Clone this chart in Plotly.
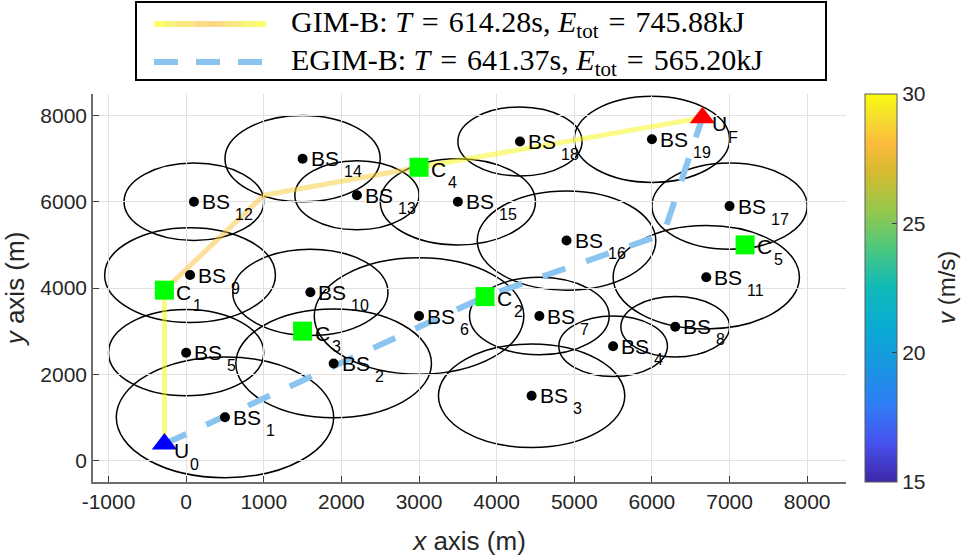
import numpy as np
import plotly.graph_objects as go
from plotly.colors import sample_colorscale

# ---------------- data ----------------
bs_id = list(range(1, 20))
bs_x = [500, 1900, 4450, 5500, 0, 3000, 4550, 6300, 50, 1600, 6700, 100, 2200, 1500, 3500, 4900, 7000, 4300, 6000]
bs_y = [1000, 2250, 1500, 2650, 2500, 3350, 3350, 3100, 4300, 3900, 4250, 6000, 6150, 7000, 6000, 5100, 5900, 7400, 7450]
bs_r = [1400, 1260, 1200, 700, 1000, 1350, 900, 700, 1100, 1000, 1200, 900, 800, 1000, 1000, 1150, 1000, 800, 1000]

c_id = ["1", "2", "3", "4", "5"]
c_x = [-280, 3850, 1500, 3000, 7200]
c_y = [3950, 3800, 3000, 6800, 5000]

u_id = ["0", "F"]
u_x = [-280, 6650]
u_y = [380, 7950]

gim_x = [-280, -280, 1000, 3000, 6650]
gim_y = [380, 3950, 6150, 6800, 7950]
gim_v = [30.0, 28.3, 28.6, 29.9]          # speed on each segment (m/s)

egim_x = [-280, 3850, 6150, 6650]
egim_y = [380, 3800, 5250, 7950]

EQ = "\u2004=\u2004"
legend_labels = ["GIM-B: <i>T</i>" + EQ + "614.28s, <i>E</i><sub>tot</sub>" + EQ + "745.88kJ",
                 "EGIM-B: <i>T</i>" + EQ + "641.37s, <i>E</i><sub>tot</sub>" + EQ + "565.20kJ"]

x_ticks = [-1000, 0, 1000, 2000, 3000, 4000, 5000, 6000, 7000, 8000]
y_ticks = [0, 2000, 4000, 6000, 8000]
cb_ticks = [15, 20, 25, 30]
v_min, v_max = 15, 30

# ---------------- styles ----------------
PARULA = [
    [0.00, "rgb(62,38,168)"],
    [0.10, "rgb(71,82,238)"],
    [0.20, "rgb(46,125,246)"],
    [0.30, "rgb(25,150,225)"],
    [0.40, "rgb(8,172,210)"],
    [0.50, "rgb(15,186,186)"],
    [0.60, "rgb(75,200,128)"],
    [0.70, "rgb(150,200,75)"],
    [0.80, "rgb(215,186,48)"],
    [0.87, "rgb(252,186,60)"],
    [0.94, "rgb(245,222,45)"],
    [1.00, "rgb(249,251,14)"],
]
SANS = "Liberation Sans, Arial, sans-serif"
SERIF = "Liberation Serif, Times New Roman, serif"
TXT = "rgb(38,38,38)"

W, H = 961, 559
L, R, T, B = 93, 115, 94, 77
PW, PH = W - L - R, H - T - B


def pxx(p):
    return (p - L) / PW


def pxy(p):
    return (H - B - p) / PH


def vcol(v):
    return sample_colorscale(PARULA, [(v - v_min) / (v_max - v_min)])[0]


fig = go.Figure()

# GIM-B path, coloured by speed
for i, v in enumerate(gim_v):
    fig.add_trace(go.Scatter(
        x=gim_x[i:i + 2], y=gim_y[i:i + 2], mode="lines",
        line=dict(color=vcol(v), width=5), opacity=0.5,
        showlegend=False, hoverinfo="skip"))

# EGIM-B path
fig.add_trace(go.Scatter(
    x=egim_x, y=egim_y, mode="lines",
    line=dict(color="rgb(140,196,240)", width=6, dash="24px,22px"),
    showlegend=False, hoverinfo="skip"))

# base stations
fig.add_trace(go.Scatter(x=bs_x, y=bs_y, mode="markers",
                         marker=dict(color="black", size=10), showlegend=False))
# C points
fig.add_trace(go.Scatter(x=c_x, y=c_y, mode="markers",
                         marker=dict(color="rgb(0,255,0)", size=19, symbol="square"),
                         showlegend=False))
# U points
fig.add_trace(go.Scatter(x=u_x, y=u_y, mode="markers",
                         marker=dict(color=["rgb(0,0,255)", "rgb(255,0,0)"], size=22,
                                     symbol="triangle-up"),
                         showlegend=False))

# colour bar carrier
fig.add_trace(go.Scatter(
    x=[None], y=[None], mode="markers", showlegend=False, hoverinfo="skip",
    marker=dict(color=[v_min], colorscale=PARULA, cmin=v_min, cmax=v_max, showscale=True,
                colorbar=dict(x=pxx(865), xanchor="left", xpad=0, ypad=0,
                              y=0.5, yanchor="middle",
                              len=1, lenmode="fraction", thickness=32,
                              outlinewidth=1, outlinecolor="rgb(90,90,90)",
                              tickvals=cb_ticks, ticks="inside", ticklen=5,
                              tickcolor="rgb(60,60,60)",
                              tickfont=dict(family=SANS, size=21, color=TXT)))))

# coverage circles
shapes = []
for x, y, r in zip(bs_x, bs_y, bs_r):
    shapes.append(dict(type="circle", xref="x", yref="y", x0=x - r, x1=x + r, y0=y - r, y1=y + r,
                       line=dict(color="black", width=1.5), layer="below"))

# labels
annotations = []


def add_label(x, y, main, sub, dx_main, dx_sub, dy_main, dy_sub):
    annotations.append(dict(x=x, y=y, xref="x", yref="y", text=main, showarrow=False,
                            xanchor="left", yanchor="middle", xshift=dx_main, yshift=dy_main,
                            font=dict(family=SANS, size=21, color="black")))
    annotations.append(dict(x=x, y=y, xref="x", yref="y", text=sub, showarrow=False,
                            xanchor="left", yanchor="middle", xshift=dx_sub, yshift=dy_sub,
                            font=dict(family=SANS, size=16, color="black")))


for i, x, y in zip(bs_id, bs_x, bs_y):
    add_label(x, y, "BS", str(i), 6, 39, 0, -13)
for i, x, y in zip(c_id, c_x, c_y):
    add_label(x, y, "C", i, 10, 27, -2, -15)
for i, x, y in zip(u_id, u_x, u_y):
    add_label(x, y, "U", i, 8, 24, -6, -20)

# colour bar title
annotations.append(dict(x=pxx(946), y=0.5, xref="paper", yref="paper",
                        text="<i>v</i> (m/s)", textangle=-90, showarrow=False,
                        xanchor="center", yanchor="middle",
                        font=dict(family=SANS, size=24, color=TXT)))

# manual legend box
shapes.append(dict(type="rect", xref="paper", yref="paper", x0=pxx(136), x1=pxx(826),
                   y0=pxy(80), y1=pxy(2), line=dict(color="black", width=2),
                   fillcolor="white", layer="above"))
row_y = [pxy(24), pxy(62)]
sx0, sx1 = 154, 266
# gradient sample for GIM-B
grad_v = [30.0, 29.6, 29.2, 28.8, 28.4, 28.1, 28.3, 28.8, 29.3, 29.7, 30.0]
edges = np.linspace(sx0, sx1, len(grad_v) + 1)
for k, v in enumerate(grad_v):
    shapes.append(dict(type="line", xref="paper", yref="paper",
                       x0=pxx(edges[k]), x1=pxx(edges[k + 1]), y0=row_y[0], y1=row_y[0],
                       line=dict(color=vcol(v), width=6), opacity=0.6, layer="above"))
shapes.append(dict(type="line", xref="paper", yref="paper", x0=pxx(sx0), x1=pxx(sx1),
                   y0=row_y[1], y1=row_y[1],
                   line=dict(color="rgb(140,196,240)", width=6, dash="24px,18px"), layer="above"))
for lab, ry in zip(legend_labels, row_y):
    annotations.append(dict(x=pxx(289), y=ry, xref="paper", yref="paper", text=lab,
                            showarrow=False, xanchor="left", yanchor="middle",
                            font=dict(family=SERIF, size=30, color="black")))

axis_common = dict(showgrid=True, gridcolor="rgb(225,225,225)", gridwidth=1,
                   zeroline=False, showline=True, linecolor="rgb(110,110,110)", linewidth=1.5,
                   ticks="inside", ticklen=6, tickcolor="rgb(60,60,60)",
                   tickfont=dict(family=SANS, size=21, color=TXT), mirror=False)

fig.update_layout(
    width=W, height=H, margin=dict(l=L, r=R, t=T, b=B, autoexpand=False),
    paper_bgcolor="white", plot_bgcolor="white",
    xaxis=dict(range=[-1200, 8500], tickvals=x_ticks, ticktext=[str(v) for v in x_ticks],
               title=dict(text="<i>x</i> axis (m)", standoff=20,
                          font=dict(family=SANS, size=26, color=TXT)),
               **axis_common),
    yaxis=dict(range=[-500, 8500], tickvals=y_ticks, ticktext=[str(v) for v in y_ticks],
               title=dict(text="<i>y</i> axis (m)", standoff=14,
                          font=dict(family=SANS, size=26, color=TXT)),
               **axis_common),
    shapes=shapes, annotations=annotations, showlegend=False,
)

fig.write_html("out.html", config={"displayModeBar": False},
               post_script="document.body.style.margin='0px';")
